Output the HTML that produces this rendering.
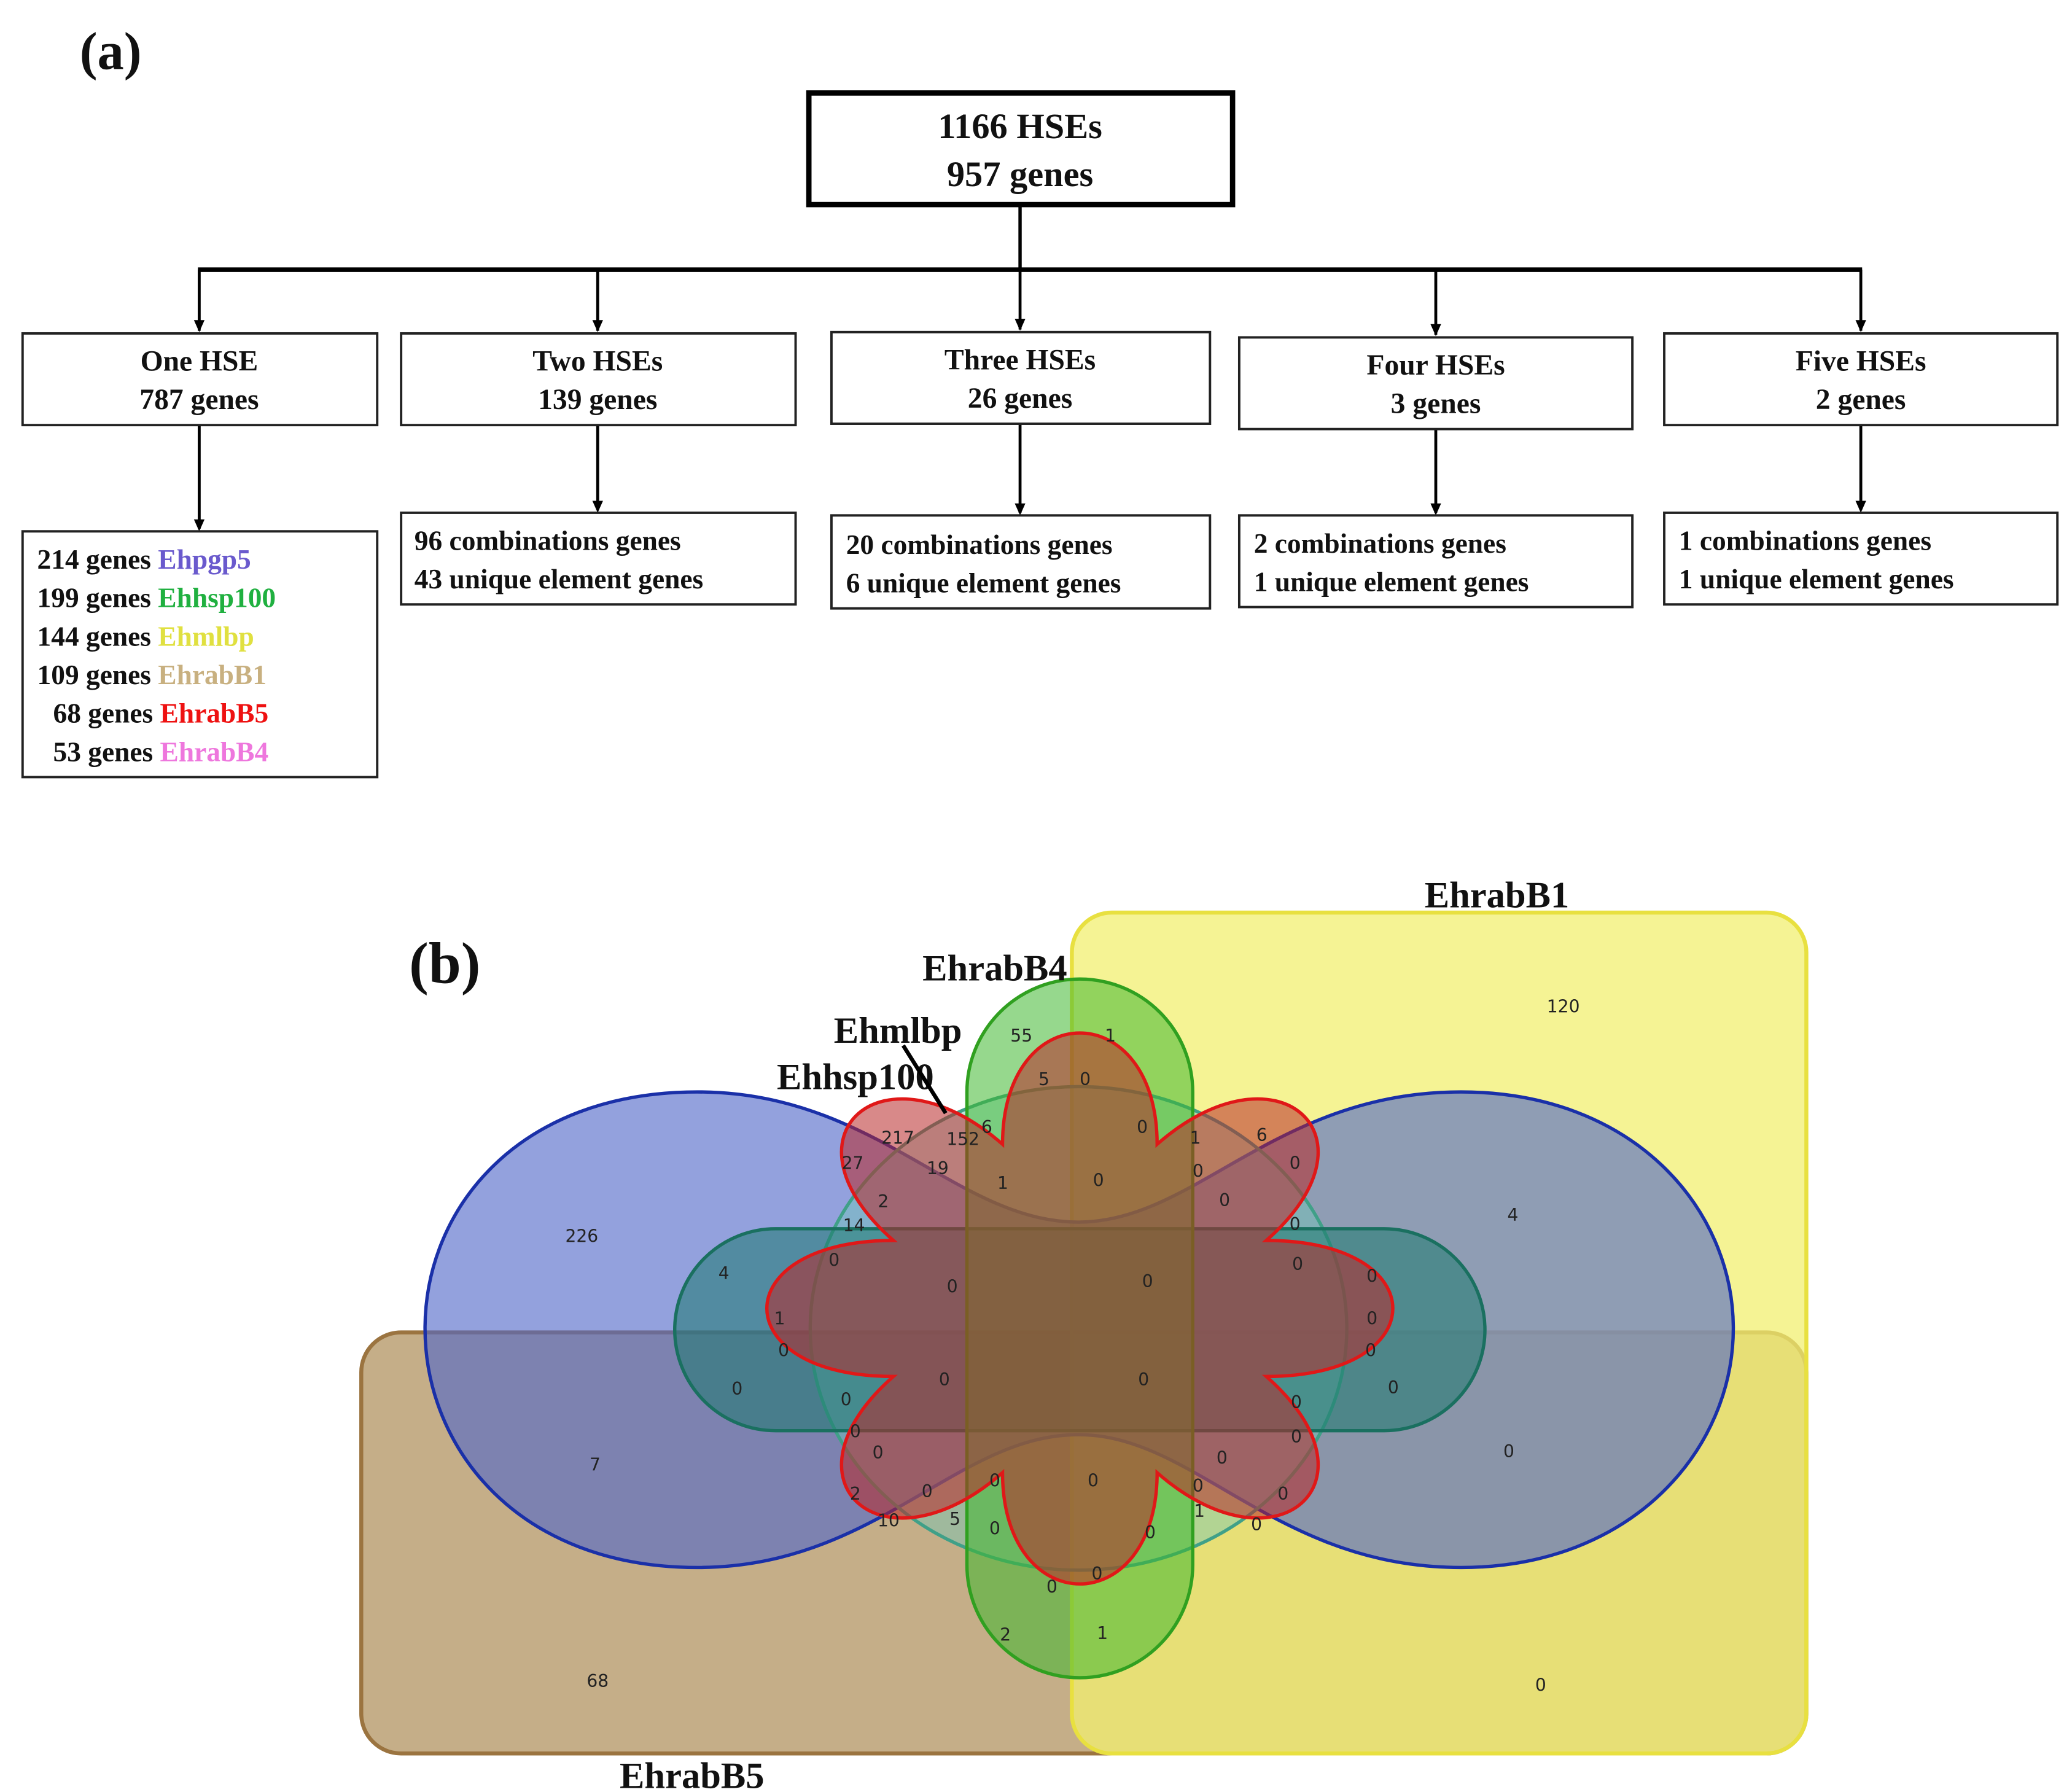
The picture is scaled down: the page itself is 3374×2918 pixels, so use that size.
<!DOCTYPE html>
<html><head><meta charset="utf-8"><style>
html,body{margin:0;padding:0;background:#fff;}
svg{display:block;}
.t{font-family:"Liberation Serif",serif;font-weight:bold;fill:#111;}
.n{font-family:"DejaVu Sans","Liberation Sans",sans-serif;font-size:13px;fill:#222;text-anchor:middle;}
</style></head><body>
<svg width="3374" height="2918" viewBox="0 0 1560 1349" preserveAspectRatio="none" xmlns="http://www.w3.org/2000/svg">
<text class="t" x="60" y="52" font-size="40">(a)</text>
<rect x="609" y="70" width="319" height="84" fill="#fff" stroke="#000" stroke-width="4"/>
<text class="t" x="768" y="104" font-size="27" text-anchor="middle">1166 HSEs</text>
<text class="t" x="768" y="140" font-size="27" text-anchor="middle">957 genes</text>
<g stroke="#000" fill="none">
<line x1="768" y1="154" x2="768" y2="203" stroke-width="2.5"/>
<line x1="149" y1="203" x2="1402" y2="203" stroke-width="3.5"/>
<g stroke-width="2.2">
<line x1="150" y1="203" x2="150" y2="249"/><line x1="450" y1="203" x2="450" y2="249"/><line x1="768" y1="203" x2="768" y2="248"/><line x1="1081" y1="203" x2="1081" y2="252"/><line x1="1401" y1="203" x2="1401" y2="249"/>
<line x1="150" y1="320" x2="150" y2="398"/><line x1="450" y1="320" x2="450" y2="384"/><line x1="768" y1="319" x2="768" y2="386"/><line x1="1081" y1="323" x2="1081" y2="386"/><line x1="1401" y1="320" x2="1401" y2="384"/>
</g></g>
<g fill="#000">
<path d="M146,241 L154,241 L150,250Z"/><path d="M446,241 L454,241 L450,250Z"/><path d="M764,240 L772,240 L768,249Z"/><path d="M1077,244 L1085,244 L1081,253Z"/><path d="M1397,241 L1405,241 L1401,250Z"/>
<path d="M146,391 L154,391 L150,400Z"/><path d="M446,377 L454,377 L450,386Z"/><path d="M764,379 L772,379 L768,388Z"/><path d="M1077,379 L1085,379 L1081,388Z"/><path d="M1397,377 L1405,377 L1401,386Z"/>
</g>
<g fill="#fff" stroke="#222" stroke-width="1.8">
<rect x="17" y="251" width="267" height="69"/><rect x="302" y="251" width="297" height="69"/><rect x="626" y="250" width="285" height="69"/><rect x="933" y="254" width="296" height="69"/><rect x="1253" y="251" width="296" height="69"/>
<rect x="17" y="400" width="267" height="185"/><rect x="302" y="386" width="297" height="69"/><rect x="626" y="388" width="285" height="70"/><rect x="933" y="388" width="296" height="69"/><rect x="1253" y="386" width="296" height="69"/>
</g>
<g class="t" font-size="22" text-anchor="middle" style="font-weight:600">
<text x="150" y="279">One HSE</text><text x="150" y="308">787 genes</text>
<text x="450" y="279">Two HSEs</text><text x="450" y="308">139 genes</text>
<text x="768" y="278">Three HSEs</text><text x="768" y="307">26 genes</text>
<text x="1081" y="282">Four HSEs</text><text x="1081" y="311">3 genes</text>
<text x="1401" y="279">Five HSEs</text><text x="1401" y="308">2 genes</text>
</g>
<g class="t" font-size="21" style="font-weight:600">
<text x="312" y="414">96  combinations genes</text><text x="312" y="443">43 unique element genes</text>
<text x="637" y="417">20 combinations genes</text><text x="637" y="446">6 unique element genes</text>
<text x="944" y="416">2  combinations genes</text><text x="944" y="445">1 unique element genes</text>
<text x="1264" y="414">1 combinations genes</text><text x="1264" y="443">1 unique element genes</text>
<text x="28" y="428">214 genes <tspan fill="#6a5acd">Ehpgp5</tspan></text>
<text x="28" y="457">199 genes <tspan fill="#20b040">Ehhsp100</tspan></text>
<text x="28" y="486">144 genes <tspan fill="#e0e040">Ehmlbp</tspan></text>
<text x="28" y="515">109 genes <tspan fill="#c8b080">EhrabB1</tspan></text>
<text x="40" y="544">68 genes <tspan fill="#ee1111">EhrabB5</tspan></text>
<text x="40" y="573">53 genes <tspan fill="#ee77dd">EhrabB4</tspan></text>
</g>
<!-- (b) -->
<text class="t" x="308" y="740" font-size="44">(b)</text>
<rect x="272" y="1003" width="1088" height="317" rx="30" fill="#b79a6a" fill-opacity="0.8" stroke="#9b7440" stroke-width="3"/>
<rect x="807" y="687" width="553" height="633" rx="30" fill="#f2ef70" fill-opacity="0.75" stroke="#e8e040" stroke-width="3"/>
<path d="M812,920 C900,920 960,822 1100,822 C1230,822 1305,910 1305,1000 C1305,1090 1230,1180 1100,1180 C960,1180 900,1080 812,1080 C720,1080 660,1180 525,1180 C390,1180 320,1090 320,1000 C320,910 390,822 525,822 C660,822 720,920 812,920Z" fill="#5068c8" fill-opacity="0.62" stroke="#1a30a8" stroke-width="2.5"/>
<ellipse cx="812" cy="1000" rx="202" ry="182" fill="#70c8b8" fill-opacity="0.45" stroke="#40a088" stroke-width="2.5"/>
<rect x="508" y="925" width="610" height="152" rx="76" fill="#1e7a70" fill-opacity="0.55" stroke="#1a7060" stroke-width="2.5"/>
<rect x="728" y="737" width="170" height="526" rx="85" fill="#40b830" fill-opacity="0.55" stroke="#30a020" stroke-width="2.5"/>
<path d="M953.4,933.8 C1080.4,933.8 1080.4,1036.2 953.4,1036.2 C1043.6,1115.2 961,1187.6 871.2,1108.6 C871.2,1220.3 754.8,1220.3 754.8,1108.6 C665,1187.6 582.4,1115.2 672.6,1036.2 C545.6,1036.2 545.6,933.8 672.6,933.8 C582.4,854.8 665,782.4 754.8,861.4 C754.8,749.7 871.2,749.7 871.2,861.4 C961,782.4 1043.6,854.8 953.4,933.8Z" fill="#b82828" fill-opacity="0.55" stroke="#e01818" stroke-width="2.5"/>
<g class="t" font-size="28" text-anchor="middle">
<text x="1127" y="683">EhrabB1</text><text x="749" y="738">EhrabB4</text><text x="676" y="785">Ehmlbp</text><text x="644" y="820">Ehhsp100</text><text x="521" y="1346">EhrabB5</text>
</g>
<line x1="680" y1="787" x2="712" y2="838" stroke="#000" stroke-width="3"/>
<g class="n">
<text x="1177" y="762">120</text><text x="438" y="935">226</text><text x="1139" y="919">4</text><text x="545" y="963">4</text><text x="448" y="1107">7</text><text x="1136" y="1097">0</text><text x="450" y="1270">68</text><text x="1160" y="1273">0</text>
<text x="769" y="784">55</text><text x="836" y="784">1</text><text x="786" y="817">5</text><text x="817" y="817">0</text><text x="743" y="853">6</text><text x="860" y="853">0</text><text x="900" y="861">1</text><text x="950" y="859">6</text>
<text x="676" y="861">217</text><text x="725" y="862">152</text><text x="642" y="880">27</text><text x="706" y="884">19</text><text x="755" y="895">1</text><text x="827" y="893">0</text><text x="902" y="886">0</text><text x="975" y="880">0</text>
<text x="665" y="909">2</text><text x="922" y="908">0</text><text x="643" y="927">14</text><text x="975" y="926">0</text><text x="628" y="953">0</text><text x="977" y="956">0</text><text x="717" y="973">0</text><text x="864" y="969">0</text><text x="1033" y="965">0</text>
<text x="587" y="997">1</text><text x="1033" y="997">0</text><text x="590" y="1021">0</text><text x="1032" y="1021">0</text><text x="555" y="1050">0</text><text x="711" y="1043">0</text><text x="861" y="1043">0</text><text x="1049" y="1049">0</text>
<text x="637" y="1058">0</text><text x="976" y="1060">0</text><text x="644" y="1082">0</text><text x="976" y="1086">0</text><text x="661" y="1098">0</text><text x="920" y="1102">0</text><text x="749" y="1119">0</text><text x="823" y="1119">0</text><text x="902" y="1123">0</text>
<text x="644" y="1129">2</text><text x="698" y="1127">0</text><text x="966" y="1129">0</text><text x="669" y="1149">10</text><text x="719" y="1148">5</text><text x="749" y="1155">0</text><text x="903" y="1142">1</text><text x="946" y="1152">0</text><text x="866" y="1158">0</text>
<text x="792" y="1199">0</text><text x="826" y="1189">0</text><text x="757" y="1235">2</text><text x="830" y="1234">1</text>
</g>
</svg>
</body></html>
